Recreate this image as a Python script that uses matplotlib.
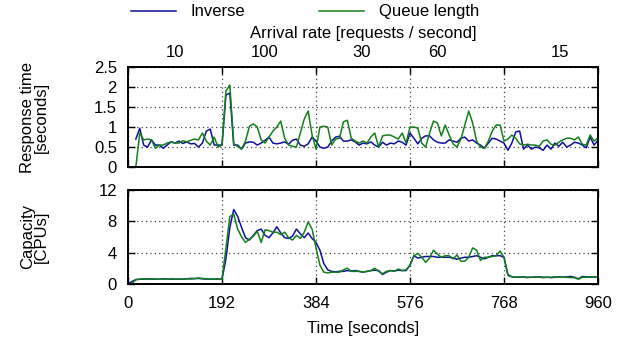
import numpy as np
import matplotlib
matplotlib.use("Agg")
import matplotlib.pyplot as plt
from matplotlib.ticker import FormatStrFormatter

plt.rcParams['font.family'] = ['Liberation Sans', 'DejaVu Sans']
plt.rcParams['font.size'] = 12

nan = float('nan')

# sample times (seconds), one value every 8 s
time_s = np.arange(0, 961, 8)

# arrival-rate phases shown on the top axis
rate_labels = ['10', '100', '30', '60', '15']
rate_label_pos = [96, 280, 478, 631, 882]
phase_edges = [0, 192, 384, 576, 768, 960]

# response time [s]
resp_inverse = [
    nan, nan, 0.7, 0.97, 0.55, 0.5, 0.68, 0.55, 0.55, 0.47, 0.55, 0.63, 0.6, 0.65, 0.59, 0.63, 0.58, 0.59, 0.5, 0.6, 0.9, 0.95, 0.55, 0.55,
    0.55, 1.8, 1.85, 0.55, 0.55, 0.45, 0.6, 0.63, 0.62, 0.55, 0.6, 0.67, 0.75, 0.6, 0.58, 0.6, 0.63, 0.57, 0.67, 0.7, 0.55, 0.52, 0.58, 0.75,
    0.65, 0.5, 0.47, 0.5, 0.65, 0.75, 0.77, 0.65, 0.65, 0.68, 0.63, 0.55, 0.6, 0.58, 0.63, 0.55, 0.5, 0.62, 0.55, 0.6, 0.58, 0.65, 0.62, 0.55,
    0.85, 0.72, 0.58, 0.72, 0.78, 0.78, 0.68, 0.62, 0.6, 0.6, 0.68, 0.65, 0.62, 0.72, 0.75, 0.65, 0.68, 0.6, 0.55, 0.47, 0.6, 0.72, 0.7, 0.65,
    0.6, 0.42, 0.6, 0.88, 0.9, 0.45, 0.55, 0.45, 0.5, 0.48, 0.42, 0.55, 0.45, 0.6, 0.52, 0.62, 0.5, 0.55, 0.62, 0.6, 0.55, 0.48, 0.75, 0.55, 0.67,
]
resp_queue = [
    nan, nan, 0.0, 0.85, 0.68, 0.7, 0.68, 0.47, 0.55, 0.55, 0.6, 0.63, 0.6, 0.6, 0.66, 0.63, 0.67, 0.7, 0.68, 0.85, 0.65, 0.55, 0.75, 0.5,
    0.55, 1.9, 2.05, 0.58, 0.52, 0.45, 0.65, 1.02, 1.08, 1.0, 0.68, 0.6, 0.75, 0.9, 1.0, 1.15, 0.72, 0.55, 0.52, 0.5, 0.85, 1.2, 1.4, 0.8,
    0.45, 1.0, 1.02, 1.0, 0.55, 0.7, 0.72, 1.13, 1.17, 0.72, 0.65, 0.6, 0.65, 0.6, 0.75, 0.85, 0.5, 0.78, 0.8, 0.8, 0.75, 0.7, 0.85, 0.6,
    1.0, 1.0, 0.97, 0.6, 0.5, 0.85, 1.15, 1.1, 0.78, 1.05, 0.8, 0.58, 0.5, 0.7, 1.05, 1.4, 1.1, 0.65, 0.5, 0.47, 0.65, 0.9, 1.05, 1.05,
    0.65, 0.7, 0.8, 0.72, 0.58, 0.55, 0.57, 0.55, 0.55, 0.52, 0.65, 0.68, 0.57, 0.55, 0.62, 0.68, 0.72, 0.72, 0.68, 0.75, 0.57, 0.55, 0.8, 0.65, 0.73,
]

# capacity [CPUs]
cap_inverse = [
    0.0, 0.3, 0.55, 0.6, 0.6, 0.65, 0.6, 0.62, 0.6, 0.65, 0.6, 0.6, 0.62, 0.6, 0.62, 0.65, 0.7, 0.68, 0.7, 0.65, 0.62, 0.6, 0.62, 0.62,
    0.6, 3.2, 7.2, 9.5, 8.6, 7.2, 5.9, 5.6, 6.2, 6.8, 7.0, 6.2, 5.9, 6.5, 7.3, 6.5, 5.9, 5.8, 6.1, 7.0, 6.4, 5.9, 6.5, 5.8,
    5.3, 4.3, 2.6, 1.8, 1.6, 1.55, 1.6, 1.6, 1.7, 1.65, 1.7, 1.6, 1.5, 1.6, 1.7, 1.75, 1.7, 1.2, 1.5, 1.7, 1.65, 1.75, 1.7, 1.7,
    2.4, 3.6, 3.3, 3.4, 3.5, 3.5, 3.5, 3.4, 3.4, 3.4, 3.4, 3.3, 3.15, 3.3, 3.4, 3.4, 3.5, 3.6, 3.4, 3.2, 3.4, 3.6, 3.6, 3.6, 3.4,
    1.1, 0.9, 0.85, 0.85, 0.9, 0.85, 0.85, 0.85, 0.9, 0.85, 0.85, 0.8, 0.85, 0.9, 0.85, 0.9, 0.95, 0.85, 0.65, 0.95, 0.9, 0.85, 0.9, 0.9,
]
cap_queue = [
    nan, 0.0, 0.55, 0.6, 0.65, 0.6, 0.65, 0.6, 0.6, 0.62, 0.6, 0.65, 0.6, 0.62, 0.6, 0.65, 0.62, 0.68, 0.75, 0.7, 0.65, 0.6, 0.62, 0.6,
    0.6, 4.5, 8.6, 8.9, 7.0, 6.0, 5.3, 5.7, 6.1, 6.7, 5.3, 6.9, 6.8, 6.6, 6.6, 6.3, 6.6, 5.9, 5.6, 6.2, 5.8, 6.6, 7.9, 7.0,
    4.6, 2.4, 1.5, 1.4, 1.5, 1.5, 1.5, 1.8, 2.0, 1.6, 1.6, 1.6, 1.5, 1.6, 1.7, 2.0, 1.6, 1.3, 1.6, 1.7, 1.6, 1.9, 1.7, 1.8,
    2.4, 3.6, 3.9, 3.4, 2.75, 3.3, 4.3, 3.8, 3.4, 3.6, 3.6, 3.2, 3.7, 2.9, 2.9, 3.4, 4.6, 4.3, 3.0, 3.4, 3.4, 3.5, 3.6, 4.2, 3.4,
    1.2, 0.9, 0.85, 0.9, 0.85, 0.8, 0.85, 0.9, 0.85, 0.8, 0.85, 0.85, 0.9, 0.85, 0.85, 0.85, 0.8, 0.8, 0.6, 0.85, 0.85, 0.9, 0.9, 0.85,
]

blue = '#1010a0'
green = '#12801a'

fig = plt.figure(figsize=(6.29, 3.54), dpi=100)
ax1 = fig.add_axes([0.2035, 0.528, 0.7472, 0.2827])
ax2 = fig.add_axes([0.2035, 0.198, 0.7472, 0.2656])

ax1.plot(time_s, resp_inverse, color=blue, lw=1.1, label='Inverse')
ax1.plot(time_s, resp_queue, color=green, lw=1.1, label='Queue length')
ax2.plot(time_s, cap_inverse, color=blue, lw=1.1)
ax2.plot(time_s, cap_queue, color=green, lw=1.1)

for ax in (ax1, ax2):
    ax.set_xlim(0, 960)
    ax.set_xticks(phase_edges)
    ax.grid(True, linestyle=(0, (1, 2.5)), color='#444444', lw=0.9)
    ax.tick_params(direction='in', length=5, width=1, top=True, right=True)
    ax.tick_params(axis='y', pad=8)
    ax.tick_params(axis='x', pad=9)
    for s in ax.spines.values():
        s.set_linewidth(1.4)

ax1.set_ylim(0, 2.5)
ax1.set_yticks([0, 0.5, 1, 1.5, 2, 2.5])
ax1.yaxis.set_major_formatter(FormatStrFormatter('%g'))
ax1.tick_params(labelbottom=False)
ax1.set_ylabel('Response time\n[seconds]', linespacing=0.95)
ax1.yaxis.set_label_coords(-0.168, 0.5)

ax2.set_ylim(0, 12)
ax2.set_yticks([0, 4, 8, 12])
ax2.set_ylabel('Capacity\n[CPUs]', linespacing=0.95)
ax2.yaxis.set_label_coords(-0.168, 0.5)
ax2.set_xlabel('Time [seconds]', labelpad=7)

top = ax1.secondary_xaxis('top')
top.set_xticks(rate_label_pos)
top.set_xticklabels(rate_labels)
top.tick_params(length=0, pad=5)
top.spines['top'].set_visible(False)
top.set_xlabel('Arrival rate [requests / second]', labelpad=5)

fig.legend(loc='upper center', bbox_to_anchor=(0.485, 1.03), ncol=2, frameon=False,
           handlelength=2.7, columnspacing=4.4, handletextpad=0.9)

fig.savefig('out.png', dpi=100)
